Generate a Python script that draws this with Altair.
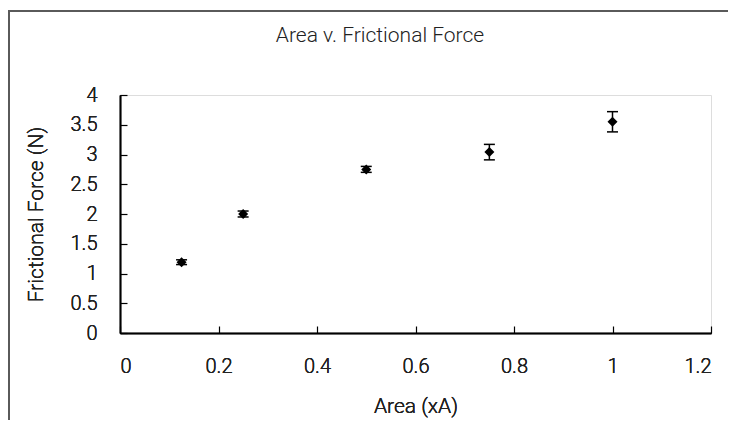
import altair as alt
import pandas as pd

# Data
area = [0.125, 0.25, 0.5, 0.75, 1.0]
force = [1.19, 2.00, 2.75, 3.04, 3.55]
err = [0.04, 0.05, 0.05, 0.13, 0.17]

x_ticks = [0, 0.2, 0.4, 0.6, 0.8, 1.0, 1.2]
y_ticks = [0, 0.5, 1, 1.5, 2, 2.5, 3, 3.5, 4]

title_text = "Area v. Frictional Force"

df = pd.DataFrame({
    "area": area,
    "force": force,
    "lo": [f - e for f, e in zip(force, err)],
    "hi": [f + e for f, e in zip(force, err)],
})

FONT = "Roboto"
WEIGHT = 300
TXT = "#222222"

xscale = alt.Scale(domain=[0, 1.2], nice=False, zero=False)
yscale = alt.Scale(domain=[0, 4], nice=False, zero=False)

x_main = alt.Axis(values=x_ticks, format="~g", title="Area (xA)", grid=False,
                  ticks=False, labelPadding=23, domainColor="black", domainWidth=1.5,
                  labelFont=FONT, labelFontSize=20, labelColor=TXT, labelFontWeight=WEIGHT,
                  titleFont=FONT, titleFontSize=21, titleFontWeight=WEIGHT,
                  titleColor=TXT, titlePadding=19, orient="bottom")
y_main = alt.Axis(values=y_ticks, format="~g", title="Frictional Force (N)", grid=False,
                  ticks=False, labelPadding=23, domainColor="black", domainWidth=1.5,
                  labelFont=FONT, labelFontSize=20, labelColor=TXT, labelFontWeight=WEIGHT,
                  titleFont=FONT, titleFontSize=21, titleFontWeight=WEIGHT,
                  titleColor=TXT, titlePadding=24, orient="left")

x_inner = alt.Axis(values=x_ticks, title=None, grid=False, labels=False, domain=False,
                   ticks=True, tickSize=7, tickColor="black", tickWidth=1.2,
                   offset=-7, orient="bottom")
y_inner = alt.Axis(values=y_ticks, title=None, grid=False, labels=False, domain=False,
                   ticks=True, tickSize=7, tickColor="black", tickWidth=1.2,
                   offset=-7, orient="left")

base = alt.Chart(df)

frame = alt.Chart(alt.Data(values=[{}])).mark_rect(
    fill="transparent", stroke="#5a5a5a", strokeWidth=2
).encode(x=alt.value(-111), x2=alt.value(720), y=alt.value(-84), y2=alt.value(420))

title = alt.Chart(alt.Data(values=[{"t": title_text}])).mark_text(
    font=FONT, fontSize=21, fontWeight=WEIGHT, color=TXT, align="center", baseline="alphabetic"
).encode(text="t:N", x=alt.value(260), y=alt.value(-53))

rules = base.mark_rule(color="black", strokeWidth=1.5).encode(
    x=alt.X("area:Q", scale=xscale, axis=x_main),
    y=alt.Y("lo:Q", scale=yscale, axis=y_main),
    y2="hi:Q",
)

caps_lo = base.mark_tick(orient="horizontal", size=11, thickness=1.5, color="black", opacity=1).encode(
    x=alt.X("area:Q", scale=xscale, axis=x_main),
    y=alt.Y("lo:Q", scale=yscale, axis=y_main),
)
caps_hi = base.mark_tick(orient="horizontal", size=11, thickness=1.5, color="black", opacity=1).encode(
    x=alt.X("area:Q", scale=xscale, axis=x_main),
    y=alt.Y("hi:Q", scale=yscale, axis=y_main),
)

points = base.mark_point(shape="diamond", filled=True, size=100, color="black", opacity=1).encode(
    x=alt.X("area:Q", scale=xscale, axis=x_inner),
    y=alt.Y("force:Q", scale=yscale, axis=y_inner),
)

chart = alt.layer(frame, title, rules, caps_lo, caps_hi, points).resolve_axis(
    x="independent", y="independent"
).properties(
    width=591,
    height=238,
    autosize=alt.AutoSizeParams(type="none"),
    padding={"left": 112, "top": 87, "right": 17, "bottom": 87},
).configure_view(stroke="#a0a0a0", strokeWidth=1.5).configure(background="white")

chart.save("out.html", embed_options={"renderer": "svg", "actions": False})
